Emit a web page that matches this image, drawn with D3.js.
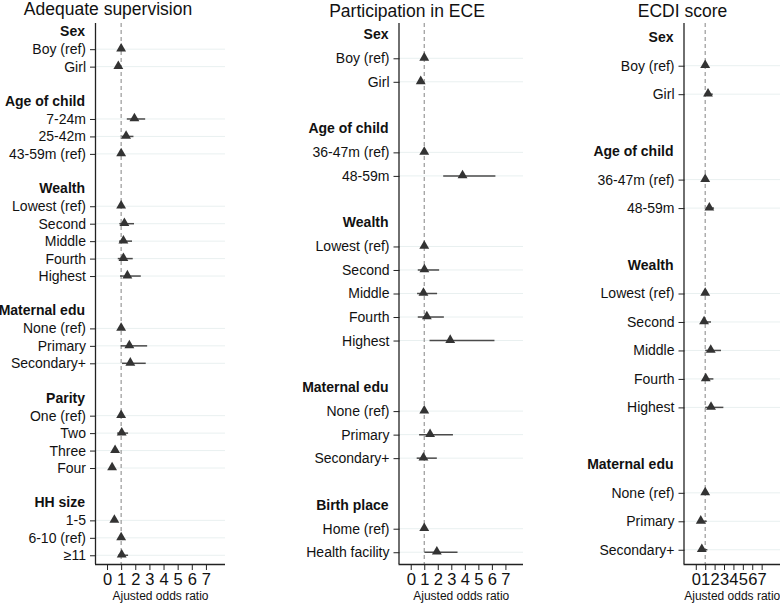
<!DOCTYPE html>
<html lang="en">
<head>
<meta charset="UTF-8">
<title>Adjusted odds ratios</title>
<script src="https://d3js.org/d3.v7.min.js"></script>
<style>
  body { margin: 0; background: #fff; }
  text { font-family: "Liberation Sans", Arial, sans-serif; fill: #111; }
</style>
</head>
<body>
<script>
// ---- data (headers marked with "#", blank spacer rows as "") ----
const supRows = ["#Sex", "Boy (ref)", "Girl", "",
  "#Age of child", "7-24m", "25-42m", "43-59m (ref)", "",
  "#Wealth", "Lowest (ref)", "Second", "Middle", "Fourth", "Highest", "",
  "#Maternal edu", "None (ref)", "Primary", "Secondary+", "",
  "#Parity", "One (ref)", "Two", "Three", "Four", "",
  "#HH size", "1-5", "6-10 (ref)", "\u226511"];
const supOR = [null, 1, 0.80, null, null, 1.94, 1.35, 1, null, null, 1, 1.23, 1.16, 1.16, 1.44, null,
  null, 1, 1.58, 1.65, null, null, 1, 1.04, 0.57, 0.36, null, null, 0.52, 1, 1.04];
const supLo = [null, null, 0.68, null, null, 1.40, 1.04, null, null, null, null, 0.87, 0.85, 0.76, 0.92, null,
  null, null, 0.97, 1.06, null, null, null, 0.72, 0.42, 0.24, null, null, 0.40, null, 0.78];
const supHi = [null, null, 0.95, null, null, 2.70, 1.87, null, null, null, null, 1.91, 1.77, 1.82, 2.39, null,
  null, null, 2.84, 2.74, null, null, null, 1.49, 0.78, 0.55, null, null, 0.70, null, 1.49];

const eceRows = ["#Sex", "Boy (ref)", "Girl", "",
  "#Age of child", "36-47m (ref)", "48-59m", "",
  "#Wealth", "Lowest (ref)", "Second", "Middle", "Fourth", "Highest", "",
  "#Maternal edu", "None (ref)", "Primary", "Secondary+", "",
  "#Birth place", "Home (ref)", "Health facility"];
const eceOR = [null, 1, 0.74, null, null, 1, 3.83, null, null, 1, 1.01, 0.94, 1.19, 2.92, null,
  null, 1, 1.43, 0.94, null, null, 1, 1.93];
const eceLo = [null, null, 0.55, null, null, null, 2.40, null, null, null, 0.52, 0.47, 0.52, 1.39, null,
  null, null, 0.62, 0.44, null, null, null, 1.01];
const eceHi = [null, null, 0.98, null, null, null, 6.26, null, null, null, 2.10, 1.95, 2.45, 6.19, null,
  null, null, 3.12, 1.93, null, null, null, 3.46];

const ecdiRows = ["#Sex", "Boy (ref)", "Girl", "",
  "#Age of child", "36-47m (ref)", "48-59m", "",
  "#Wealth", "Lowest (ref)", "Second", "Middle", "Fourth", "Highest", "",
  "#Maternal edu", "None (ref)", "Primary", "Secondary+"];
const ecdiOR = [null, 1, 1.30, null, null, 1, 1.44, null, null, 1, 0.88, 1.59, 1.06, 1.62, null,
  null, 1, 0.53, 0.64];
const ecdiLo = [null, null, 1.00, null, null, null, 1.10, null, null, null, 0.60, 1.00, 0.80, 1.00, null,
  null, null, 0.30, 0.35];
const ecdiHi = [null, null, 1.80, null, null, null, 1.94, null, null, null, 1.62, 2.68, 1.87, 2.93, null,
  null, null, 1.17, 1.23];

const xTicks = [0, 1, 2, 3, 4, 5, 6, 7];
const titles = ["Adequate supervision", "Participation in ECE", "ECDI score"];
const xTitle = "Ajusted odds ratio";

const width = 780, height = 603;
const plotTop = 23, plotBottom = 564;

const svg = d3.select("body").append("svg")
    .attr("width", width)
    .attr("height", height);

const panels = [
  { rows: supRows, or: supOR, lo: supLo, hi: supHi, left: 96, right: 225, domain: [-0.78, 8.35], titleX: 108, titleY: 15 },
  { rows: eceRows, or: eceOR, lo: eceLo, hi: eceHi, left: 399.5, right: 523, domain: [-0.83, 8.3], titleX: 407, titleY: 16.5 },
  { rows: ecdiRows, or: ecdiOR, lo: ecdiLo, hi: ecdiHi, left: 684.5, right: 780, domain: [-1.2, 8.95], titleX: 682.5, titleY: 17 }
];

panels.forEach((p, pi) => {
  const g = svg.append("g");
  const idx = d3.range(p.rows.length);

  const x = d3.scaleLinear().domain(p.domain).range([p.left, p.right]);
  const y = d3.scalePoint().domain(idx).range([plotTop, plotBottom]).padding(0.5);

  const items = idx.filter(i => p.rows[i] !== "" && !p.rows[i].startsWith("#"));
  const heads = idx.filter(i => p.rows[i].startsWith("#"));

  // title
  g.append("text")
      .attr("x", p.titleX)
      .attr("y", p.titleY)
      .attr("text-anchor", "middle")
      .style("font-size", "17.5px")
      .text(titles[pi]);

  // light gridlines on item rows
  g.append("g").selectAll("line")
    .data(items)
    .join("line")
      .attr("x1", p.left).attr("x2", p.right)
      .attr("y1", d => y(d)).attr("y2", d => y(d))
      .attr("stroke", "#e9f0f0")
      .attr("stroke-width", 1);

  // reference line at 1
  g.append("line")
      .attr("x1", x(1)).attr("x2", x(1))
      .attr("y1", plotTop).attr("y2", plotBottom)
      .attr("stroke", "#999")
      .attr("stroke-width", 1.2)
      .attr("stroke-dasharray", "4,3");

  // y axis (item rows only get ticks)
  const yAxis = d3.axisLeft(y)
      .tickValues(items)
      .tickSize(6)
      .tickPadding(4)
      .tickFormat(i => p.rows[i]);
  const ya = g.append("g")
      .attr("transform", `translate(${p.left},0)`)
      .call(yAxis);
  ya.select(".domain").attr("d", `M-0.5,${plotTop}V${plotBottom}`).attr("stroke", "#222").attr("stroke-width", 1.3);
  ya.selectAll(".tick line").attr("stroke", "#222");
  ya.selectAll(".tick text")
      .style("font-size", "14px")
      .style("font-family", "'Liberation Sans', Arial, sans-serif")
      .attr("fill", "#111");

  // group headers (bold, no tick)
  g.append("g").selectAll("text")
    .data(heads)
    .join("text")
      .attr("x", p.left - 11)
      .attr("y", d => y(d))
      .attr("dy", "0.32em")
      .attr("text-anchor", "end")
      .style("font-size", "14px")
      .style("font-weight", "bold")
      .text(d => p.rows[d].slice(1));

  // x axis
  const xAxis = d3.axisBottom(x)
      .tickValues(xTicks)
      .tickSize(6)
      .tickPadding(3)
      .tickFormat(d3.format("d"));
  const xa = g.append("g")
      .attr("transform", `translate(0,${plotBottom})`)
      .call(xAxis);
  xa.select(".domain").attr("d", `M${p.left - 1},0.5H${p.right}`).attr("stroke", "#222").attr("stroke-width", 1.3);
  xa.selectAll(".tick line").attr("stroke", "#222");
  xa.selectAll(".tick text")
      .style("font-size", "16.5px")
      .style("font-family", "'Liberation Sans', Arial, sans-serif")
      .attr("fill", "#111");

  g.append("text")
      .attr("x", (p.left + p.right) / 2)
      .attr("y", 600)
      .attr("text-anchor", "middle")
      .style("font-size", "12px")
      .text(xTitle);

  // confidence intervals
  const ci = items.filter(i => p.lo[i] != null);
  g.append("g").selectAll("line")
    .data(ci)
    .join("line")
      .attr("x1", i => x(p.lo[i])).attr("x2", i => x(p.hi[i]))
      .attr("y1", i => y(i)).attr("y2", i => y(i))
      .attr("stroke", "#4a4a4a")
      .attr("stroke-width", 1.5);

  // point estimates
  g.append("g").selectAll("path")
    .data(items.filter(i => p.or[i] != null))
    .join("path")
      .attr("transform", i => `translate(${x(p.or[i])},${y(i) - 0.5})`)
      .attr("d", d3.symbol(d3.symbolTriangle, 42))
      .attr("fill", "#333");
});
</script>
</body>
</html>
